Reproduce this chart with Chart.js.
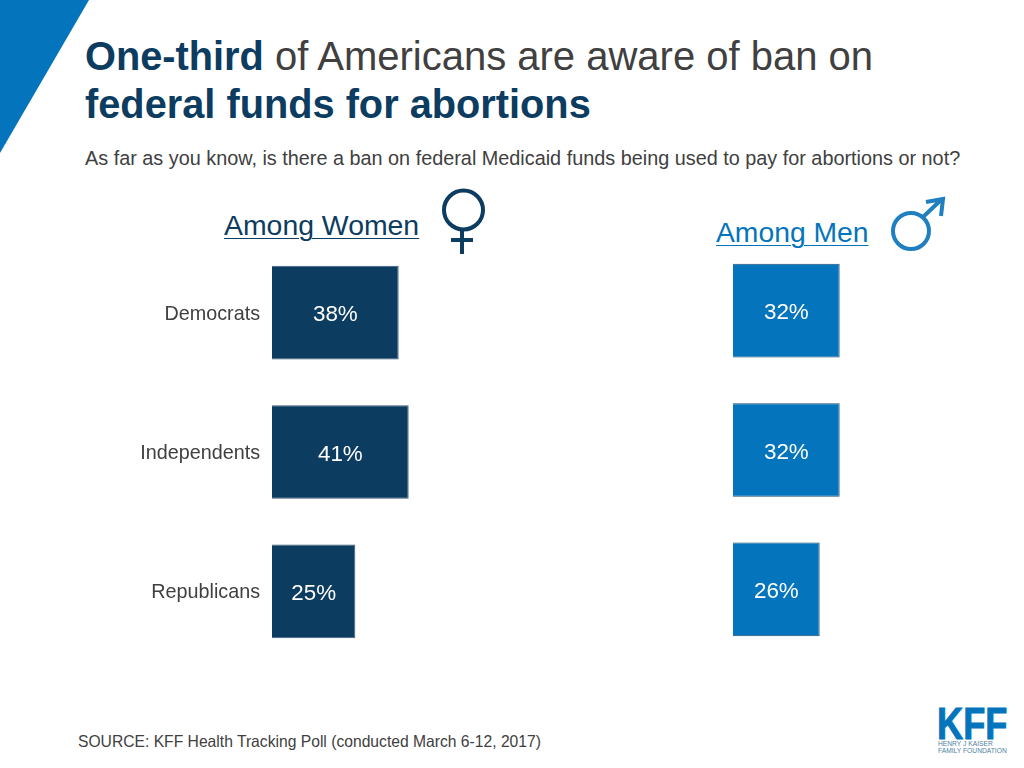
<!DOCTYPE html>
<html>
<head>
<meta charset="utf-8">
<title>One-third of Americans are aware of ban on federal funds for abortions</title>
<script src="https://cdn.jsdelivr.net/npm/chart.js@4"></script>
<style>
html, body { margin: 0; padding: 0; background: #fff; }
body { width: 1024px; height: 768px; position: relative; overflow: hidden; font-family: "Liberation Sans", Arial, sans-serif; }
.abs { position: absolute; white-space: nowrap; }
#corner { left: 0; top: 0; width: 89px; height: 153px; background: #0474bc; clip-path: polygon(0 0, 100% 0, 0 100%); }
#title { left: 85px; top: 33px; font-size: 40px; line-height: 47.5px; color: #404040; }
#title b { color: #0d3c61; font-size: 39.75px; }
#question { left: 85px; top: 147px; font-size: 19.83px; color: #404040; }
#women { left: 224px; top: 209px; font-size: 28.4px; color: #0d3c61; text-decoration: underline; text-decoration-thickness: 1px; text-underline-offset: 3px; }
#men { left: 716px; top: 216px; font-size: 28.3px; color: #0474bc; text-decoration: underline; text-decoration-thickness: 1px; text-underline-offset: 3px; }
#source { left: 78px; top: 733px; font-size: 15.66px; color: #404040; }
#logo1 { left: 937px; top: 699px; font-size: 44.7px; line-height: 50px; font-weight: bold; color: #0474bc; transform: scaleX(0.81); transform-origin: left top; -webkit-text-stroke: 1px #0474bc; }
#logo2 { left: 938px; top: 741px; font-size: 6.7px; line-height: 6.5px; color: #4f7fa3; }
#chartWomen { left: 130px; top: 243px; }
#chartMen { left: 733px; top: 241px; }
</style>
</head>
<body>
<div class="abs" id="corner"></div>
<div class="abs" id="title"><b>One-third</b> of Americans are aware of ban on<br><b>federal funds for abortions</b></div>
<div class="abs" id="question">As far as you know, is there a ban on federal Medicaid funds being used to pay for abortions or not?</div>
<div class="abs" id="women">Among Women</div>
<div class="abs" id="men">Among Men</div>

<svg class="abs" style="left:0;top:0" width="1024" height="768" fill="none">
  <g stroke="#0d3c61" stroke-width="4">
    <circle cx="463.5" cy="210" r="19.5"/>
    <path d="M462 230V254M451 240H473"/>
  </g>
  <g stroke="#1f7fc0" stroke-width="4">
    <circle cx="911" cy="231" r="18"/>
    <path d="M923 217L942 199M926 202L943 199L941 216"/>
  </g>
</svg>

<canvas class="abs" id="chartWomen" width="342" height="418"></canvas>
<canvas class="abs" id="chartMen" width="200" height="418"></canvas>

<div class="abs" id="source">SOURCE: KFF Health Tracking Poll (conducted March 6-12, 2017)</div>
<div class="abs" id="logo1">KFF</div>
<div class="abs" id="logo2">HENRY J KAISER<br>FAMILY FOUNDATION</div>

<script>
// Dados
const categories = ['Democrats', 'Independents', 'Republicans'];
const womenValues = [38, 41, 25];
const menValues = [32, 32, 26];

// Rótulos de percentagem dentro das barras
const barLabels = {
    id: 'barLabels',
    afterDatasetsDraw(chart) {
        const ctx = chart.ctx;
        const meta = chart.getDatasetMeta(0);
        ctx.save();
        ctx.font = '22.4px "Liberation Sans"';
        ctx.fillStyle = '#ffffff';
        ctx.textAlign = 'center';
        ctx.textBaseline = 'middle';
        meta.data.forEach((bar, i) => {
            const value = chart.data.datasets[0].data[i];
            ctx.fillText(value + '%', (bar.x + bar.base) / 2, bar.y + 2.5);
        });
        ctx.restore();
    }
};

function criarGrafico(id, values, fill, border, showLabels) {
    return new Chart(document.getElementById(id), {
        type: 'bar',
        data: {
            labels: categories,
            datasets: [{
                data: values,
                backgroundColor: fill,
                borderColor: border,
                borderWidth: 1,
                barPercentage: 1,
                categoryPercentage: 0.672
            }]
        },
        options: {
            indexAxis: 'y',
            responsive: false,
            animation: false,
            plugins: { legend: { display: false }, tooltip: { enabled: false } },
            scales: {
                x: { display: false, min: 0, max: 60 },
                y: {
                    display: showLabels,
                    grid: { display: false, drawTicks: false },
                    border: { display: false },
                    ticks: { color: '#404040', padding: 12, labelOffset: 1.5, font: { family: '"Liberation Sans"', size: 19.75 } },
                    afterFit(scale) {
                        if (showLabels) {
                            scale.width = 142;
                            // sem margem extra em cima e em baixo
                            scale.paddingTop = 0;
                            scale.paddingBottom = 0;
                        }
                    }
                }
            }
        },
        plugins: [barLabels]
    });
}

criarGrafico('chartWomen', womenValues, '#0d3c61', '#3a5a76', true);
criarGrafico('chartMen', menValues, '#0474bc', '#1f4f75', false);
</script>
</body>
</html>
